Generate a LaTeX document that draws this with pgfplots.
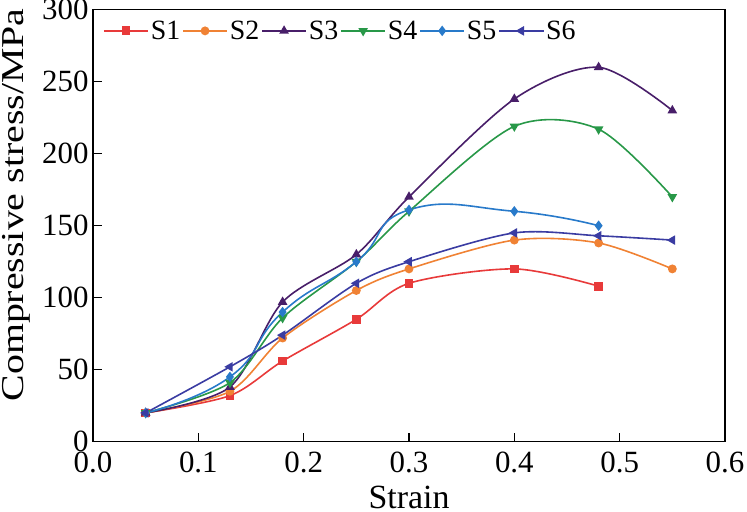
\documentclass[border=0pt]{standalone}
\usepackage{fontspec}
\setmainfont{Liberation Serif}
\usepackage{graphicx}
\usepackage{pgfplots}
\pgfplotsset{compat=1.18}
\definecolor{c1}{RGB}{232,58,58}
\definecolor{c2}{RGB}{240,130,52}
\definecolor{c3}{RGB}{72,30,105}
\definecolor{c4}{RGB}{40,152,72}
\definecolor{c5}{RGB}{40,122,202}
\definecolor{c6}{RGB}{58,60,162}
\begin{document}
\begin{tikzpicture}
\path[use as bounding box] (-93bp,-70.3bp) rectangle (654bp,441.7bp);
\begin{axis}[
  scale only axis, width=632bp, height=432bp,
  xmin=0, xmax=0.6, ymin=0, ymax=300,
  xtick={0,0.1,0.2,0.3,0.4,0.5,0.6},
  ytick={0,50,100,150,200,250,300},
  tick pos=left, tick align=inside, major tick length=9bp,
  axis line style={line width=1.4bp},
  every tick/.style={black,line width=1.2bp},
  /pgf/number format/assume math mode=true,
  xticklabel style={font=\fontsize{31}{31}\selectfont, yshift=-7bp,
    /pgf/number format/.cd, fixed, fixed zerofill, precision=1},
  yticklabel style={font=\fontsize{31}{31}\selectfont, xshift=-1bp},
  xlabel={Strain},
  xlabel style={font=\fontsize{34}{34}\selectfont, yshift=-6bp},
  ylabel={\scalebox{1.25}[1]{Compressive stress/MPa}},
  ylabel style={font=\fontsize{32}{32}\selectfont, at={(ticklabel cs:0.548)}, yshift=5bp},
  legend columns=6,
  legend style={at={(0,1)}, anchor=north west, draw=none, fill=none, yshift=-7bp,
    font=\fontsize{28}{28}\selectfont, inner xsep=10bp, inner ysep=2bp,
    /tikz/every even column/.append style={column sep=0pt}},
  legend image code/.code={\draw[mark repeat=2,mark phase=2] plot coordinates {(0bp,0bp) (22bp,0bp) (44bp,0bp)};},
  every axis plot/.append style={line width=1.6bp, smooth, mark size=4bp},
]
\addplot[c1, mark=square*, mark options={solid,fill=c1}, mark size=3.6bp] coordinates {
  (0.05,20) (0.13,32) (0.18,56) (0.25,85) (0.3,110) (0.4,120) (0.48,108)};
\addlegendentry{S1}
\addplot[c2, mark=*, mark options={fill=c2}, mark size=3.6bp] coordinates {
  (0.05,20) (0.13,35) (0.18,72) (0.25,105) (0.3,120) (0.4,140) (0.48,138) (0.55,120)};
\addlegendentry{S2}
\addplot[c3, mark=triangle*, mark options={fill=c3}] coordinates {
  (0.05,20) (0.13,38) (0.18,97) (0.25,130) (0.3,170) (0.4,238) (0.48,260) (0.55,230)};
\addlegendentry{S3}
\addplot[c4, mark=triangle*, mark options={fill=c4, rotate=180}] coordinates {
  (0.05,20) (0.13,41) (0.18,86) (0.25,125) (0.3,160) (0.4,219) (0.48,217) (0.55,170)};
\addlegendentry{S4}
\addplot[c5, mark=diamond*, mark options={fill=c5}, tension=0.85] coordinates {
  (0.05,20) (0.13,45) (0.18,90) (0.25,125) (0.3,161) (0.4,160) (0.48,150)};
\addlegendentry{S5}
\addplot[c6, mark=triangle*, mark options={fill=c6, rotate=90}] coordinates {
  (0.05,20) (0.13,52) (0.18,74) (0.25,110) (0.3,125) (0.4,145) (0.48,143) (0.55,140)};
\addlegendentry{S6}
\end{axis}
\end{tikzpicture}
\end{document}
